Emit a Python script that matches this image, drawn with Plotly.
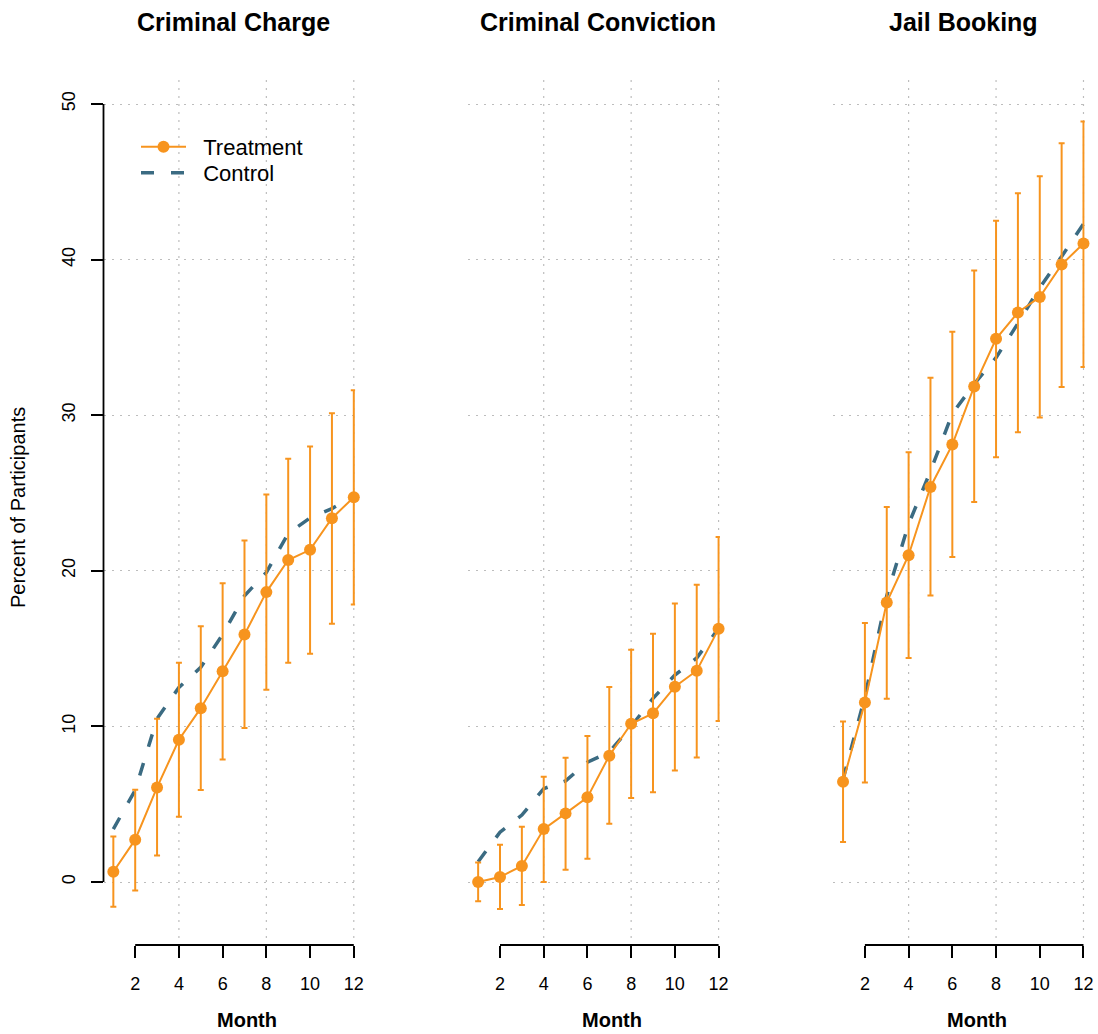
import plotly.graph_objects as go

# ---------------- data ----------------
months = [1, 2, 3, 4, 5, 6, 7, 8, 9, 10, 11, 12]

charge_treat = [0.66, 2.72, 6.08, 9.14, 11.17, 13.54, 15.9, 18.63, 20.69, 21.35, 23.38, 24.73]
charge_hi = [2.92, 5.93, 10.49, 14.09, 16.44, 19.2, 21.95, 24.9, 27.2, 27.99, 30.13, 31.6]
charge_lo = [-1.59, -0.55, 1.70, 4.20, 5.91, 7.88, 9.89, 12.35, 14.09, 14.67, 16.59, 17.83]
charge_ctrl = [3.4, 5.9, 10.5, 12.5, 13.8, 15.9, 18.4, 19.9, 22.4, 23.4, 24.0, 24.8]

conv_treat = [0.0, 0.32, 1.03, 3.4, 4.41, 5.44, 8.12, 10.17, 10.84, 12.55, 13.58, 16.27]
conv_hi = [1.26, 2.4, 3.55, 6.77, 7.99, 9.38, 12.53, 14.93, 15.95, 17.9, 19.1, 22.17]
conv_lo = [-1.24, -1.73, -1.48, 0.0, 0.79, 1.5, 3.75, 5.4, 5.76, 7.17, 8.0, 10.34]
conv_ctrl = [1.3, 3.2, 4.3, 6.0, 6.5, 7.7, 8.35, 10.0, 11.8, 13.3, 14.4, 16.3]

jail_treat = [6.45, 11.54, 17.97, 21.0, 25.39, 28.11, 31.85, 34.91, 36.6, 37.6, 39.68, 41.03]
jail_hi = [10.32, 16.64, 24.1, 27.62, 32.4, 35.36, 39.3, 42.49, 44.27, 45.36, 47.47, 48.88]
jail_lo = [2.57, 6.4, 11.78, 14.39, 18.42, 20.88, 24.42, 27.3, 28.9, 29.85, 31.82, 33.1]
jail_ctrl = [6.6, 11.9, 18.4, 23.0, 26.4, 30.1, 32.0, 33.7, 35.9, 38.2, 40.2, 42.3]

panel_titles = ["Criminal Charge", "Criminal Conviction", "Jail Booking"]
x_ticks = [2, 4, 6, 8, 10, 12]
x_grid = [4, 8, 12]
y_ticks = [0, 10, 20, 30, 40, 50]

panels = [
    (charge_treat, charge_lo, charge_hi, charge_ctrl),
    (conv_treat, conv_lo, conv_hi, conv_ctrl),
    (jail_treat, jail_lo, jail_hi, jail_ctrl),
]

# ---------------- style ----------------
W, H = 1098, 1034
ORANGE = "#F7941E"
TEAL = "#3B6B82"
GRID = "#BDBDBD"
FONT = "Liberation Sans, Arial, Helvetica, sans-serif"
NB = "\u00a0\u00a0"


def px_x(p):
    return p / W


def px_y(p):
    return 1 - p / H


lefts = [103.5, 468.3, 833.2]
pw = 251.6
y_dom = [px_y(938), px_y(78)]
y_range = [(882 - 938) / 15.56, (882 - 78) / 15.56]
x_range = [0.55, 12.06]
xaxis_pos = px_y(945)

fig = go.Figure()
legend_common = dict(xanchor="left", yanchor="top", bgcolor="rgba(0,0,0,0)",
                     font=dict(size=22, family=FONT), itemwidth=45,
                     tracegroupgap=0)
layout = dict(
    width=W, height=H,
    margin=dict(l=0, r=0, t=0, b=0, autoexpand=False),
    paper_bgcolor="white", plot_bgcolor="white",
    font=dict(family=FONT, color="black", size=18),
    showlegend=True,
    legend=dict(x=px_x(136), y=px_y(126), **legend_common),
    legend2=dict(x=px_x(136), y=px_y(152), **legend_common),
)
shapes = []
annotations = []

for i, (tr, lo, hi, ct) in enumerate(panels):
    n = "" if i == 0 else str(i + 1)
    xa, ya = "x" + n, "y" + n
    fig.add_trace(go.Scatter(
        x=months, y=ct, mode="lines", name=NB + "Control",
        line=dict(color=TEAL, width=3.5, dash="13px,17px"),
        xaxis=xa, yaxis=ya, showlegend=(i == 0), legend="legend2",
    ))
    fig.add_trace(go.Scatter(
        x=months, y=tr, mode="lines+markers", name=NB + "Treatment",
        line=dict(color=ORANGE, width=2),
        marker=dict(color=ORANGE, size=12),
        error_y=dict(type="data", symmetric=False,
                     array=[h - t for h, t in zip(hi, tr)],
                     arrayminus=[t - l for t, l in zip(tr, lo)],
                     color=ORANGE, thickness=2, width=3),
        xaxis=xa, yaxis=ya, showlegend=(i == 0), legend="legend",
        cliponaxis=False,
    ))

    left = lefts[i]
    layout["xaxis" + n] = dict(
        domain=[px_x(left), px_x(left + pw)], range=x_range,
        anchor="free", position=xaxis_pos, automargin=False,
        tickmode="array", tickvals=x_ticks, ticks="outside", ticklen=12,
        tickwidth=1.8, tickcolor="black", showline=False, showgrid=False,
        zeroline=False, tickfont=dict(size=18), ticklabelstandoff=10,
    )
    layout["yaxis" + n] = dict(
        domain=y_dom, range=y_range, anchor=xa, automargin=False,
        tickmode="array", tickvals=y_ticks,
        showgrid=True, gridcolor=GRID, griddash="2px,6px", gridwidth=1.2,
        zeroline=False, showline=False,
        ticks="outside" if i == 0 else "", ticklen=12, tickwidth=1.8,
        tickcolor="black", showticklabels=(i == 0), tickangle=-90,
        tickfont=dict(size=18), ticklabelstandoff=8,
    )
    # vertical dotted grid lines
    for gx in x_grid:
        shapes.append(dict(type="line", xref=xa, yref=ya + " domain",
                           x0=gx, x1=gx, y0=0, y1=1, layer="below",
                           line=dict(color=GRID, width=1.2, dash="2px,6px")))
    # x axis line (R style, spanning first to last tick)
    shapes.append(dict(type="line", xref=xa, yref="paper",
                       x0=x_ticks[0], x1=x_ticks[-1], y0=xaxis_pos, y1=xaxis_pos,
                       line=dict(color="black", width=1.8)))
    # titles
    annotations.append(dict(text="<b>" + panel_titles[i] + "</b>",
                            xref="paper", yref="paper",
                            x=px_x(left + 130), y=px_y(22),
                            xanchor="center", yanchor="middle", showarrow=False,
                            font=dict(size=25, family=FONT)))
    annotations.append(dict(text="<b>Month</b>", xref="paper", yref="paper",
                            x=px_x(left + 143.5), y=px_y(1020),
                            xanchor="center", yanchor="middle", showarrow=False,
                            font=dict(size=20, family=FONT)))

# y axis line for first panel
shapes.append(dict(type="line", xref="x domain", yref="y",
                   x0=0, x1=0, y0=y_ticks[0], y1=y_ticks[-1],
                   line=dict(color="black", width=1.8)))

annotations.append(dict(text="Percent of Participants", xref="paper", yref="paper",
                        x=px_x(18), y=px_y(508), xanchor="center", yanchor="middle",
                        textangle=-90, showarrow=False, font=dict(size=20, family=FONT)))

layout["shapes"] = shapes
layout["annotations"] = annotations
fig.update_layout(**layout)
fig.write_html("out.html", config={"responsive": False, "displayModeBar": False},
               post_script="document.body.style.margin='0px';document.body.style.overflow='hidden';")
